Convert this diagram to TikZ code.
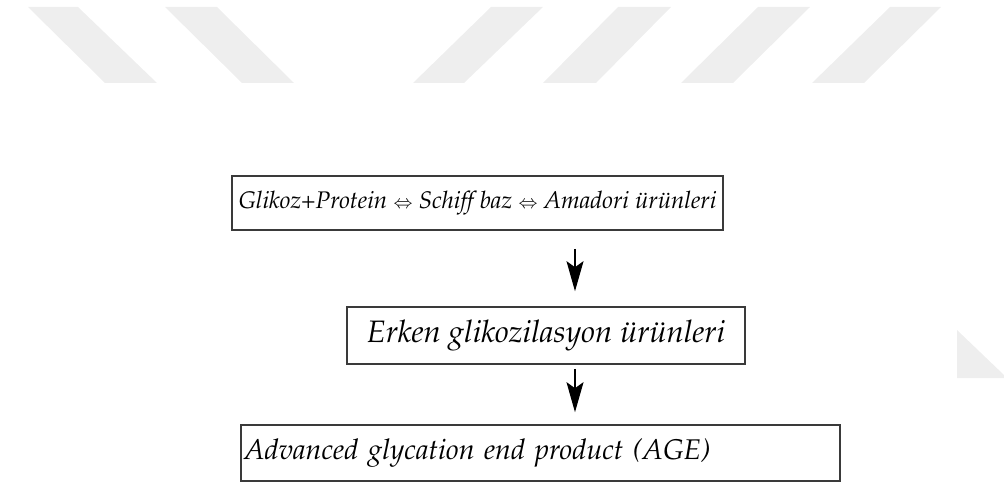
\documentclass[tikz,border=0pt]{standalone}
\usepackage[T1]{fontenc}
\usepackage{mathpazo}
\usepackage{xcolor}
\usepackage{tikz}
\usetikzlibrary{positioning}
\usetikzlibrary{arrows.meta}

\definecolor{wmgray}{HTML}{EEEEEE}
\definecolor{boxline}{HTML}{3A3A3A}

\tikzset{
  prodbox/.style={draw=boxline, line width=1.6pt, inner sep=0pt,
    font=\fontsize{#1}{#1}\selectfont\itshape},
  prodbox/.default=24,
  flowarrow/.style={line width=1.6pt, black,
    -{Stealth[length=30pt, width=17pt, inset=6pt]}},
  wmark/.style={fill=wmgray, draw=none}
}

\begin{document}
\begin{tikzpicture}[x=1pt,y=-1pt]
			\useasboundingbox (0,0) rectangle (1004,484);
			% watermark
			\fill[wmark] (28,7) -- (78,7) -- (157,83) -- (105,83) -- cycle;
			\fill[wmark] (165,7) -- (217,7) -- (294,83) -- (242,83) -- cycle;
			\fill[wmark] (491,7) -- (543,7) -- (464,83) -- (413,83) -- cycle;
			\fill[wmark] (618,7) -- (671,7) -- (596,83) -- (543,83) -- cycle;
			\fill[wmark] (758,7) -- (810,7) -- (733,83) -- (681,83) -- cycle;
			\fill[wmark] (890,7) -- (941,7) -- (864,83) -- (812,83) -- cycle;
			\fill[wmark] (957,330) -- (957,378) -- (1004,378) -- (1004,375) -- cycle;
			
			\node[prodbox=24, minimum width=491pt, minimum height=54pt] (gp) at (477.5,203) {Glikoz+Protein $\scriptstyle\Leftrightarrow$ Schiff baz $\scriptstyle\Leftrightarrow$ Amadori \"ur\"unleri};
			
			\node[prodbox=31, minimum width=398pt, minimum height=57pt] (erken) at (546,335.5) {Erken glikozilasyon \"ur\"unleri};
			
			\node[prodbox=28.5, text width=593pt, inner xsep=3pt, align=left, minimum height=56pt] (age) at (540.5,453) {Advanced glycation end product (AGE)};
			
			\coordinate (ax) at (575,0);
			\draw[flowarrow, shorten <=18pt, shorten >=15pt] (gp.south -| ax) -- (erken.north -| ax);
			\draw[flowarrow, shorten <=4pt, shorten >=12pt] (erken.south -| ax) -- (age.north -| ax);
			\end{tikzpicture}
\end{document}
